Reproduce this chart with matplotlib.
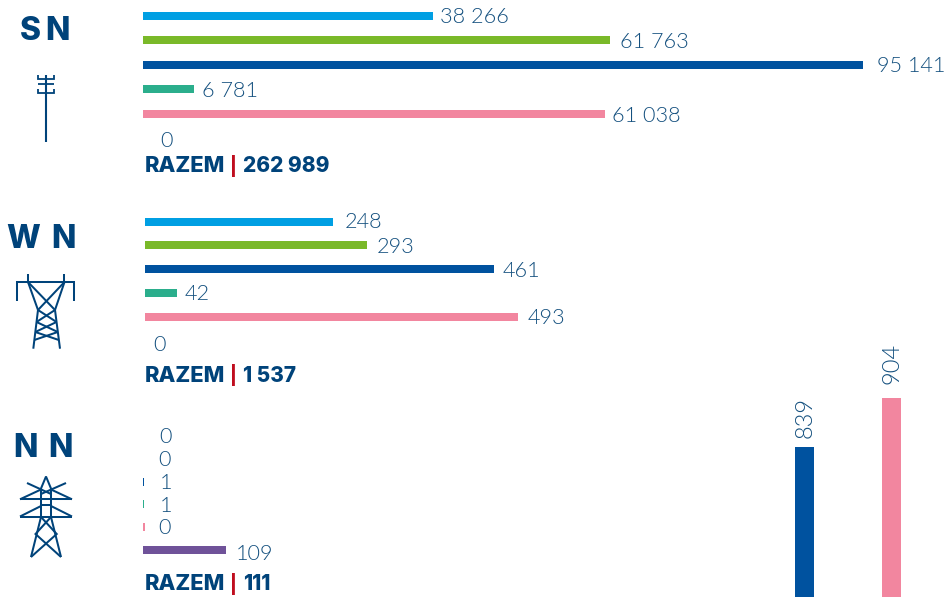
import matplotlib
matplotlib.use("Agg")
import matplotlib.pyplot as plt

W, H = 948, 597
NAVY = "#00437A"
TXT = "#14507F"
RED = "#C00D1E"
SERIES_COLORS = ["#009FE3", "#7AB929", "#00529F", "#2BAE8C", "#F2869F", "#6F5299"]
LIGHT = {"family": ["Lato", "DejaVu Sans"], "fontweight": 300, "fontsize": 15.6, "color": TXT}

# data
sn_labels = ["38 266", "61 763", "95 141", "6 781", "61 038", "0"]
sn_values = [38266, 61763, 95141, 6781, 61038, 0]
wn_labels = ["248", "293", "461", "42", "493", "0"]
wn_values = [248, 293, 461, 42, 493, 0]
nn_labels = ["0", "0", "1", "1", "0", "109"]
nn_values = [0.4, 0.4, 1, 1, 3, 109]
totals = ["262 989", "1 537", "111"]
column_values = [839, 904]
column_labels = ["839", "904"]

plt.rcParams["font.family"] = ["Inter", "DejaVu Sans"]
fig = plt.figure(figsize=(W / 100, H / 100), dpi=100)
fig.patch.set_facecolor("white")

def axes_px(left, top, right, bottom):
    ax = fig.add_axes([left / W, 1 - bottom / H, (right - left) / W, (bottom - top) / H])
    ax.axis("off")
    ax.patch.set_alpha(0)
    return ax

def panel(x0, pxperunit, y_rows, values, labels, gaps, label_dy):
    rowgap = y_rows[1] - y_rows[0]
    top = y_rows[0] - rowgap / 2
    bottom = top + 6 * rowgap
    maxv = (W - x0) / pxperunit
    ax = axes_px(x0, top, W, bottom)
    ax.set_xlim(0, maxv)
    ax.set_ylim(5.5, -0.5)
    for i in range(6):
        if values[i] > 0:
            ax.barh(i, values[i], height=8.0 / rowgap, color=SERIES_COLORS[i], lw=0)
        ax.annotate(labels[i], (values[i], i), xytext=(gaps[i] * 0.72, -(label_dy[i] - 1) * 0.72),
                    textcoords="offset points", va="center_baseline", ha="left",
                    annotation_clip=False, **LIGHT)
    return ax

panel(143, 720 / 95141, [15.5, 40.1, 64.7, 89.3, 113.9, 138.5], sn_values, sn_labels,
      [7, 10, 14, 8, 7, 17], [0.5, 1, 0, 1, 1, 1.5])
panel(145, 349 / 461, [221.5, 245.3, 269.1, 292.9, 316.7, 340.5], wn_values, wn_labels,
      [12, 10, 9, 8, 9, 8], [0, 1, 1, 0.5, 0.5, 3.5])
panel(143, 83 / 109, [436, 458.8, 481.6, 504.4, 527.2, 548], nn_values, nn_labels,
      [16, 15, 16, 16, 13, 10], [0, 0, 0, 0.5, 0, 3])

# column fragment: baseline runs below the figure
scale = 49 / 65
base = 447 + 839 * scale
axc = axes_px(760.5, base - 1000 * scale, 934.5, base)
axc.set_xlim(-0.5, 1.5)
axc.set_ylim(0, 1000)
col_colors = [SERIES_COLORS[2], SERIES_COLORS[4]]
axc.bar([0, 1], column_values, width=19 / 87, color=col_colors, lw=0)
col_gaps = [9, 14]
for i, v in enumerate(column_values):
    axc.annotate(column_labels[i], (i, v), xytext=(1.0, col_gaps[i] * 0.72), textcoords="offset points",
                 rotation=90, ha="center", va="bottom", annotation_clip=False,
                 **{**LIGHT, "fontsize": 17})

# overlay in pixel space for titles, totals and pictograms
ov = axes_px(0, 0, W, H)
ov.set_xlim(0, W)
ov.set_ylim(H, 0)

for a, b, xa, xb, y in [("S", "N", 41, 45.5, 31), ("W", "N", 40.5, 51.5, 239.5), ("N", "N", 38, 48, 448.5)]:
    ov.text(xa, y, a, ha="right", va="center", fontsize=23, fontweight=800, color=NAVY)
    ov.text(xb, y, b, ha="left", va="center", fontsize=23, fontweight=800, color=NAVY)

for total, y in zip(totals, [166.5, 375.5, 584.5]):
    ov.text(145, y, "RAZEM", ha="left", va="center", fontsize=15.8, fontweight=800, color=NAVY)
    ov.text(233, y - 0.5, "|", ha="center", va="center", fontsize=12.5, fontweight=800, color=RED)
    ov.text(243, y, total, ha="left", va="center", fontsize=15, fontweight=800, color=NAVY)

def line(pts, lw=1.45):
    xs, ys = zip(*pts)
    ov.plot(xs, ys, color=NAVY, lw=lw, solid_capstyle="butt", solid_joinstyle="miter")

# SN pictogram
line([(46, 75), (46, 142)], 1.5)
line([(38, 74.5), (38, 78.5), (54.5, 78.5), (54.5, 74.5)], 1.3)
line([(38, 89), (38, 93), (54.5, 93), (54.5, 89)], 1.3)
line([(38, 84), (54.5, 84)], 1.3)

# WN pictogram
line([(17.3, 301), (17.3, 282), (74.5, 282), (74.5, 301)])
line([(28, 274), (28, 282)])
line([(64.5, 274), (64.5, 282)])
line([(28, 282), (38, 310), (33.3, 348.7)])
line([(64.5, 282), (55, 310), (60, 348.7)])
line([(28, 282), (55, 310)])
line([(64.5, 282), (38, 310)])
for y1, y2, a1, b1, a2, b2 in [(310, 322, 38, 55, 36.5, 56.5),
                               (322, 332, 36.5, 56.5, 35.3, 57.8),
                               (332, 340, 35.3, 57.8, 34.3, 58.8)]:
    line([(a1, y1), (b2, y2)])
    line([(b1, y1), (a2, y2)])

# NN pictogram
line([(31, 557), (41, 517), (41, 488.5), (46, 476.5), (51, 488.5), (51, 517), (61, 557)])
line([(20, 499.3), (72, 499.3)])
line([(20, 516.5), (72, 516.5)])
line([(20, 499.3), (41, 489.5)])
line([(72, 499.3), (51, 489.5)])
line([(20, 516.5), (41, 506)])
line([(72, 516.5), (51, 506)])
line([(27, 483), (51, 494)])
line([(66, 483), (41, 494)])
line([(41, 505), (51, 505)])
line([(41, 517), (56.7, 534), (31, 557)])
line([(51, 517), (35.5, 534), (61, 557)])

fig.savefig("out.png", dpi=100)
